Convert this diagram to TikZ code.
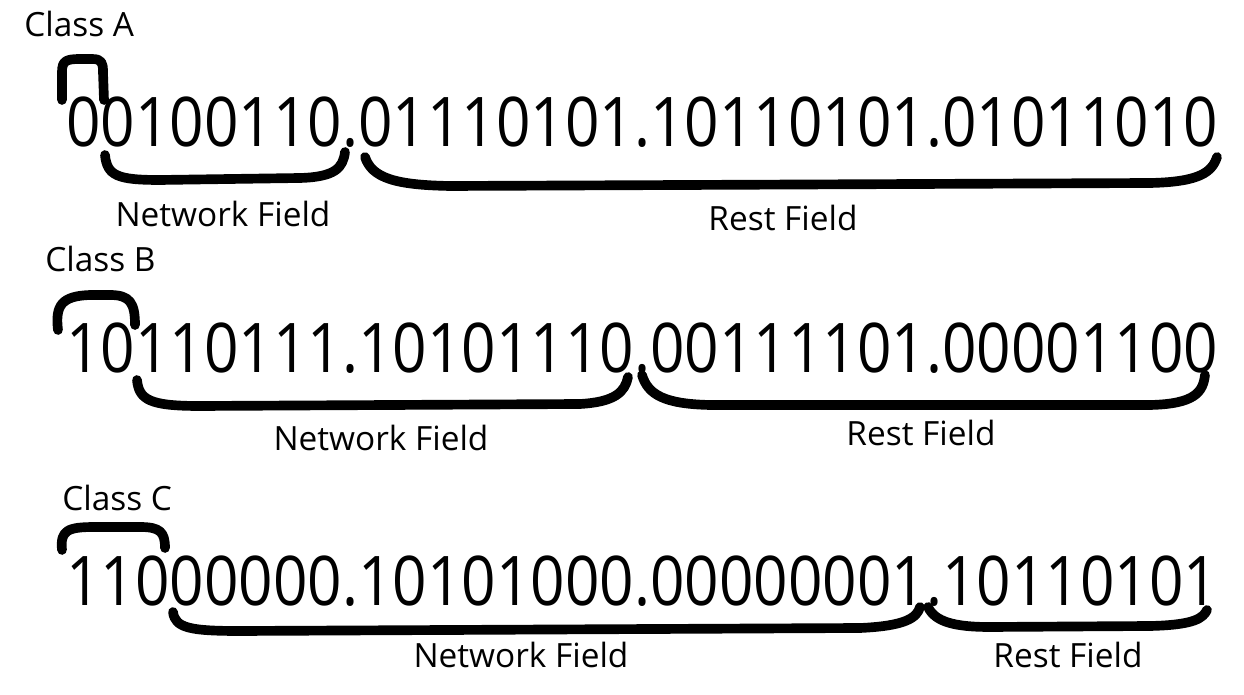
\documentclass[tikz,border=0pt]{standalone}
\usepackage{fontspec}
\setmainfont{Open Sans}
\newfontfamily\bitsfont[FakeStretch=0.88]{Open Sans}
\usetikzlibrary{calc}

\tikzset{
  brace/.style={line width=5.5pt, line cap=round, line join=round},
  bits/.style={inner sep=0pt, anchor=base west, font=\bitsfont\fontsize{39}{39}\selectfont},
  tag/.style={inner sep=0pt, font=\fontsize{19}{19}\selectfont}
}

\begin{document}
\begin{tikzpicture}[x=0.02cm, y=-0.02cm]

\useasboundingbox (0,0) rectangle (1244,695);

% Address rows
\node[bits] (bitsA) at (66,147) {00100110.01110101.10110101.01011010};
\node[bits] (bitsB) at (66,373) {10110111.10101110.00111101.00001100};
\node[bits] (bitsC) at (66,605) {11000000.10101000.00000001.10110101};

% Class names
\node[tag, anchor=base west] (classA) at (24,37) {Class A};
\node[tag, anchor=base west] (classB) at (45,272) {Class B};
\node[tag, anchor=base west] (classC) at (62,511) {Class C};

% Field names
\node[tag, anchor=base] (netA) at (223,227) {Network Field};
\node[tag, anchor=base] (restA) at (783,231) {Rest Field};
\node[tag, anchor=base] (netB) at (381,451) {Network Field};
\node[tag, anchor=base] (restB) at (921,446) {Rest Field};
\node[tag, anchor=base] (netC) at (521,667) {Network Field};
\node[tag, anchor=base] (restC) at (1068,667) {Rest Field};

% Class A braces
\draw[brace] (62,100) -- (62,72) .. controls (62,61) and (66,59) .. (80,59)
  -- (92,59) .. controls (102,59) and (103,63) .. (103,72) -- (104,100);
\draw[brace] (105,155) .. controls (107,176) and (118,180) .. (160,180)
  -- (300,178) .. controls (335,177) and (343,168) .. (345,152);
\draw[brace] (365,157) .. controls (372,178) and (395,185) .. (450,186)
  -- (1150,183) .. controls (1200,182) and (1212,172) .. (1217,157);

% Class B braces
\draw[brace] (58,330) .. controls (55,305) and (62,296) .. (90,295)
  -- (110,295) .. controls (130,295) and (135,303) .. (135,325);
\draw[brace] (137,380) .. controls (139,400) and (150,406) .. (200,406)
  -- (580,404) .. controls (615,402) and (625,392) .. (628,377);
\draw[brace] (642,375) .. controls (648,395) and (665,404) .. (710,405)
  -- (1150,405) .. controls (1195,404) and (1203,392) .. (1205,375);

% Class C braces
\draw[brace] (62,550) .. controls (60,530) and (68,527) .. (95,527)
  -- (140,527) .. controls (160,527) and (165,532) .. (165,548);
\draw[brace] (173,612) .. controls (175,628) and (190,631) .. (240,631)
  -- (860,628) .. controls (905,626) and (917,618) .. (920,607);
\draw[brace] (928,607) .. controls (935,622) and (955,627) .. (990,627)
  -- (1150,626) .. controls (1195,625) and (1203,618) .. (1207,610);

\end{tikzpicture}
\end{document}
